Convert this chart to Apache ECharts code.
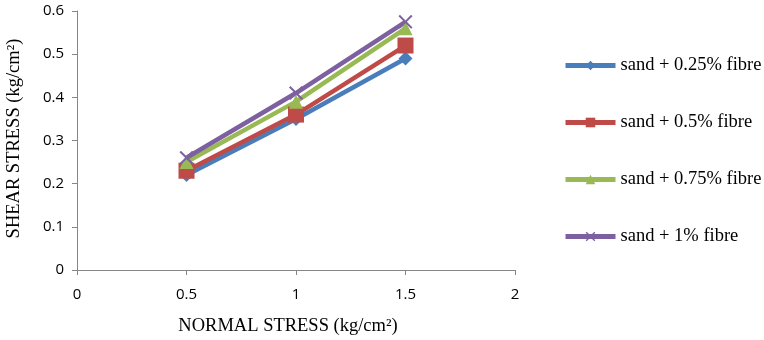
<!DOCTYPE html>
<html>
<head>
<meta charset="utf-8">
<script src="https://cdn.jsdelivr.net/npm/echarts@6/dist/echarts.min.js"></script>
<style>
  html, body { margin: 0; padding: 0; background: #fff; }
  #chart { width: 764px; height: 340px; }
</style>
</head>
<body>
<div id="chart"></div>
<script>
// Direct shear test results: normal stress vs shear stress
const normalStress = [0.5, 1, 1.5];
const seriesNames = ['sand + 0.25% fibre', 'sand + 0.5% fibre', 'sand + 0.75% fibre', 'sand + 1% fibre'];
const fibre025 = [0.22, 0.35, 0.49];
const fibre050 = [0.23, 0.36, 0.52];
const fibre075 = [0.25, 0.39, 0.56];
const fibre100 = [0.26, 0.41, 0.575];

const colors = ['#4A7EBB', '#BE4B48', '#98B954', '#7D60A0'];
const crossPath = 'path://M0,1 L1,0 L5,4 L9,0 L10,1 L6,5 L10,9 L9,10 L5,6 L1,10 L0,9 L4,5 Z';
const symbols = ['diamond', 'rect', 'triangle', crossPath];
const symbolSizes = [14, 16, 14, 14];
const values = [fibre025, fibre050, fibre075, fibre100];

const chart = echarts.init(document.getElementById('chart'));
const axisLineStyle = { color: '#868686', width: 1 };
const tickFont = { fontFamily: 'Open Sans', fontSize: 15, color: '#000' };
const nameFont = { fontFamily: 'Liberation Serif', fontSize: 18.5, color: '#000' };

chart.setOption({
  animation: false,
  color: colors,
  grid: { left: 77, right: 249, top: 11, bottom: 70, containLabel: false, outerBoundsMode: 'none' },
  legend: {
    orient: 'vertical',
    left: 563,
    top: 56,
    padding: 0,
    itemWidth: 50,
    itemHeight: 12,
    itemGap: 38,
    lineStyle: { width: 5 },
    textStyle: { fontFamily: 'Liberation Serif', fontSize: 18.5, color: '#000', lineHeight: 18 },
    data: seriesNames
  },
  xAxis: {
    type: 'value',
    min: 0, max: 2, interval: 0.5,
    name: 'NORMAL STRESS (kg/cm²)',
    nameLocation: 'middle',
    nameGap: 47,
    nameTextStyle: Object.assign({ padding: [0, 16, 0, 0] }, nameFont),
    axisLine: { lineStyle: axisLineStyle },
    axisTick: { show: true, length: 5, lineStyle: axisLineStyle },
    axisLabel: Object.assign({ margin: 17 }, tickFont),
    splitLine: { show: false }
  },
  yAxis: {
    type: 'value',
    min: 0, max: 0.6, interval: 0.1,
    name: 'SHEAR STRESS (kg/cm²)',
    nameLocation: 'middle',
    nameGap: 53,
    nameTextStyle: Object.assign({ padding: [0, 0, 0, 4] }, nameFont),
    axisLine: { show: true, lineStyle: axisLineStyle },
    axisTick: { show: true, length: 5, lineStyle: axisLineStyle },
    axisLabel: Object.assign({ margin: 13 }, tickFont),
    splitLine: { show: false }
  },
  series: seriesNames.map((name, i) => ({
    name: name,
    type: 'line',
    data: normalStress.map((x, j) => [x, values[i][j]]),
    symbol: symbols[i],
    symbolSize: symbolSizes[i],
    showAllSymbol: true,
    lineStyle: { width: 4.5, color: colors[i] },
    itemStyle: { color: colors[i] }
  }))
});
</script>
</body>
</html>
